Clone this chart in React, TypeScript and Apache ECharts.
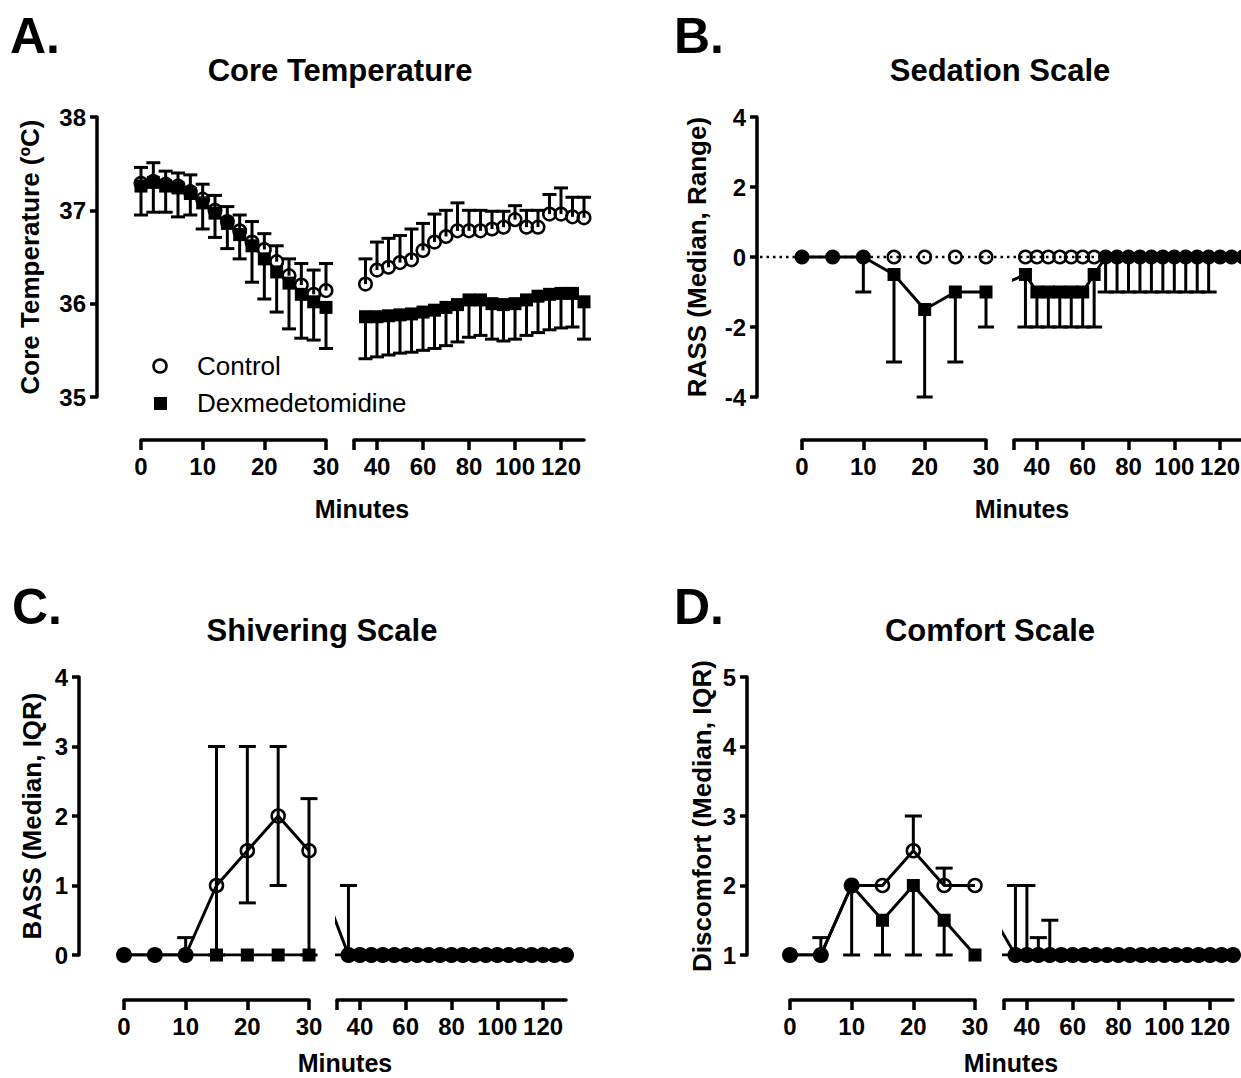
import React, { useEffect, useRef } from "react";
import * as echarts from "echarts";

const FONT = '"Liberation Sans", Arial, Helvetica, sans-serif';

// ---------------- A. Core Temperature (mean, SD) ----------------
const tempEarlyMinutes = [0, 2, 4, 6, 8, 10, 12, 14, 16, 18, 20, 22, 24, 26, 28, 30];
const tempEarlyControl = [37.29, 37.31, 37.28, 37.26, 37.2, 37.12, 37.0, 36.88, 36.78, 36.66, 36.58, 36.45, 36.3, 36.2, 36.1, 36.14];
const tempEarlyControlUpper = [37.46, 37.51, 37.42, 37.4, 37.38, 37.28, 37.16, 37.04, 36.95, 36.88, 36.75, 36.62, 36.48, 36.43, 36.36, 36.43];
const tempEarlyDex = [37.26, 37.3, 37.26, 37.24, 37.18, 37.08, 36.97, 36.86, 36.74, 36.62, 36.48, 36.34, 36.22, 36.1, 36.02, 35.96];
const tempEarlyDexLower = [36.95, 36.98, 36.98, 36.93, 36.95, 36.8, 36.71, 36.59, 36.48, 36.23, 36.05, 35.91, 35.73, 35.63, 35.61, 35.52];
const tempLateMinutes = [35, 40, 45, 50, 55, 60, 65, 70, 75, 80, 85, 90, 95, 100, 105, 110, 115, 120, 125, 130];
const tempLateControl = [36.21, 36.36, 36.39, 36.44, 36.47, 36.57, 36.66, 36.72, 36.78, 36.78, 36.78, 36.8, 36.82, 36.9, 36.82, 36.82, 36.96, 36.96, 36.93, 36.92];
const tempLateControlUpper = [36.48, 36.66, 36.7, 36.73, 36.8, 36.86, 36.96, 37.0, 37.08, 37.0, 37.0, 36.99, 36.99, 37.05, 37.0, 37.0, 37.17, 37.24, 37.14, 37.14];
const tempLateDex = [35.86, 35.86, 35.87, 35.88, 35.89, 35.91, 35.93, 35.96, 35.99, 36.04, 36.04, 36.0, 35.99, 36.0, 36.04, 36.08, 36.1, 36.11, 36.11, 36.02];
const tempLateDexLower = [35.41, 35.43, 35.45, 35.47, 35.48, 35.5, 35.52, 35.55, 35.59, 35.64, 35.66, 35.62, 35.6, 35.62, 35.66, 35.69, 35.72, 35.74, 35.75, 35.62];

// ---------------- B. Sedation Scale (RASS median, range) ----------------
const sedEarlyMinutes = [0, 5, 10, 15, 20, 25, 30];
const sedEarlyControl = [0, 0, 0, 0, 0, 0, 0];
const sedEarlyDex = [0, 0, 0, -0.5, -1.5, -1, -1];
const sedEarlyDexLower = [0, 0, -1, -3, -4, -3, -2];
const sedLateMinutes = [35, 40, 45, 50, 55, 60, 65, 70, 75, 80, 85, 90, 95, 100, 105, 110, 115, 120, 125, 130];
const sedLateControl = [0, 0, 0, 0, 0, 0, 0, 0, 0, 0, 0, 0, 0, 0, 0, 0, 0, 0, 0, 0];
const sedLateDex = [-0.5, -1, -1, -1, -1, -1, -0.5, 0, 0, 0, 0, 0, 0, 0, 0, 0, 0, 0, 0, 0];
const sedLateDexLower = [-2, -2, -2, -2, -2, -2, -2, -1, -1, -1, -1, -1, -1, -1, -1, -1, -1, 0, 0, 0];

// ---------------- C. Shivering Scale (BASS median, IQR) ----------------
const shivEarlyMinutes = [0, 5, 10, 15, 20, 25, 30];
const shivEarlyControl = [0, 0, 0, 1, 1.5, 2, 1.5];
const shivEarlyControlLower = [0, 0, 0, 0, 0.75, 1, 0];
const shivEarlyControlUpper = [0, 0, 0.25, 3, 3, 3, 2.25];
const shivEarlyDex = [0, 0, 0, 0, 0, 0, 0];
const shivLateMinutes = [35, 40, 45, 50, 55, 60, 65, 70, 75, 80, 85, 90, 95, 100, 105, 110, 115, 120, 125, 130];
const shivLateControl = [0, 0, 0, 0, 0, 0, 0, 0, 0, 0, 0, 0, 0, 0, 0, 0, 0, 0, 0, 0];
const shivLateControlUpper = [1, 0, 0, 0, 0, 0, 0, 0, 0, 0, 0, 0, 0, 0, 0, 0, 0, 0, 0, 0];
const shivLateDex = [0, 0, 0, 0, 0, 0, 0, 0, 0, 0, 0, 0, 0, 0, 0, 0, 0, 0, 0, 0];

// ---------------- D. Comfort Scale (discomfort median, IQR) ----------------
const comfEarlyMinutes = [0, 5, 10, 15, 20, 25, 30];
const comfEarlyControl = [1, 1, 2, 2, 2.5, 2, 2];
const comfEarlyControlUpper = [1, 1.25, 2, 2, 3, 2.25, 2];
const comfEarlyDex = [1, 1, 2, 1.5, 2, 1.5, 1];
const comfEarlyDexLower = [1, 1, 1, 1, 1, 1, 1];
const comfLateMinutes = [35, 40, 45, 50, 55, 60, 65, 70, 75, 80, 85, 90, 95, 100, 105, 110, 115, 120, 125, 130];
const comfLateControl = [1, 1, 1, 1, 1, 1, 1, 1, 1, 1, 1, 1, 1, 1, 1, 1, 1, 1, 1, 1];
const comfLateControlUpper = [2, 2, 1.25, 1.5, 1, 1, 1, 1, 1, 1, 1, 1, 1, 1, 1, 1, 1, 1, 1, 1];
const comfLateDex = [1, 1, 1, 1, 1, 1, 1, 1, 1, 1, 1, 1, 1, 1, 1, 1, 1, 1, 1, 1];

// x-axis tick labels
const lateTicks = [30, 40, 60, 80, 100, 120];
const lateLabels = [40, 60, 80, 100, 120];

const legendNames = ["Control", "Dexmedetomidine"];

type Seg = { left: number; width: number; min: number; max: number };
type SegData = {
  t: number[];
  ctrl: number[];
  ctrlLo: number[];
  ctrlHi: number[];
  dex: number[];
  dexLo: number[];
  dexHi: number[];
};
type Panel = {
  letter: string;
  title: string;
  yName: string;
  yMin: number;
  yMax: number;
  yStep: number;
  yAxisX: number;
  top: number;
  height: number;
  axisY: number;
  L: Seg;
  R: Seg;
  early: SegData;
  late: SegData;
  ctrlLine: boolean;
  dexLine: boolean;
  mergeEqual: boolean;
  sym: { open: number; filled: number; square: number; cap: number };
  letterPos: [number, number];
  titlePos: [number, number];
  minutesPos: [number, number];
  nameCenterX: number;
  refZero?: boolean;
};

const panels: Panel[] = [
  {
    letter: "A.",
    title: "Core Temperature",
    yName: "Core Temperature (ºC)",
    yMin: 35,
    yMax: 38,
    yStep: 1,
    yAxisX: 97,
    top: 117,
    height: 280,
    axisY: 440,
    L: { left: 141, width: 185, min: 0, max: 30 },
    R: { left: 354, width: 230, min: 30, max: 130 },
    early: {
      t: tempEarlyMinutes,
      ctrl: tempEarlyControl,
      ctrlLo: tempEarlyControl,
      ctrlHi: tempEarlyControlUpper,
      dex: tempEarlyDex,
      dexLo: tempEarlyDexLower,
      dexHi: tempEarlyDex,
    },
    late: {
      t: tempLateMinutes,
      ctrl: tempLateControl,
      ctrlLo: tempLateControl,
      ctrlHi: tempLateControlUpper,
      dex: tempLateDex,
      dexLo: tempLateDexLower,
      dexHi: tempLateDex,
    },
    ctrlLine: false,
    dexLine: false,
    mergeEqual: false,
    sym: { open: 12.5, filled: 15, square: 13, cap: 7 },
    letterPos: [10, 36],
    titlePos: [340, 70],
    minutesPos: [362, 509],
    nameCenterX: 30,
  },
  {
    letter: "B.",
    title: "Sedation Scale",
    yName: "RASS (Median, Range)",
    yMin: -4,
    yMax: 4,
    yStep: 2,
    yAxisX: 757,
    top: 117,
    height: 280,
    axisY: 440,
    L: { left: 802, width: 184, min: 0, max: 30 },
    R: { left: 1014, width: 229, min: 30, max: 130 },
    early: {
      t: sedEarlyMinutes,
      ctrl: sedEarlyControl,
      ctrlLo: sedEarlyControl,
      ctrlHi: sedEarlyControl,
      dex: sedEarlyDex,
      dexLo: sedEarlyDexLower,
      dexHi: sedEarlyDex,
    },
    late: {
      t: sedLateMinutes,
      ctrl: sedLateControl,
      ctrlLo: sedLateControl,
      ctrlHi: sedLateControl,
      dex: sedLateDex,
      dexLo: sedLateDexLower,
      dexHi: sedLateDex,
    },
    ctrlLine: false,
    dexLine: true,
    mergeEqual: true,
    sym: { open: 12.5, filled: 15, square: 13, cap: 8 },
    letterPos: [674, 36],
    titlePos: [1000, 70],
    minutesPos: [1022, 509],
    nameCenterX: 697,
    refZero: true,
  },
  {
    letter: "C.",
    title: "Shivering Scale",
    yName: "BASS (Median, IQR)",
    yMin: 0,
    yMax: 4,
    yStep: 1,
    yAxisX: 79,
    top: 677,
    height: 278,
    axisY: 1000,
    L: { left: 124, width: 185, min: 0, max: 30 },
    R: { left: 337, width: 229, min: 30, max: 130 },
    early: {
      t: shivEarlyMinutes,
      ctrl: shivEarlyControl,
      ctrlLo: shivEarlyControlLower,
      ctrlHi: shivEarlyControlUpper,
      dex: shivEarlyDex,
      dexLo: shivEarlyDex,
      dexHi: shivEarlyDex,
    },
    late: {
      t: shivLateMinutes,
      ctrl: shivLateControl,
      ctrlLo: shivLateControl,
      ctrlHi: shivLateControlUpper,
      dex: shivLateDex,
      dexLo: shivLateDex,
      dexHi: shivLateDex,
    },
    ctrlLine: true,
    dexLine: true,
    mergeEqual: true,
    sym: { open: 13, filled: 16, square: 13, cap: 8.5 },
    letterPos: [12, 607],
    titlePos: [322, 630],
    minutesPos: [345, 1063],
    nameCenterX: 32,
  },
  {
    letter: "D.",
    title: "Comfort Scale",
    yName: "Discomfort (Median, IQR)",
    yMin: 1,
    yMax: 5,
    yStep: 1,
    yAxisX: 747,
    top: 677,
    height: 278,
    axisY: 1000,
    L: { left: 790, width: 185, min: 0, max: 30 },
    R: { left: 1004, width: 229, min: 30, max: 130 },
    early: {
      t: comfEarlyMinutes,
      ctrl: comfEarlyControl,
      ctrlLo: comfEarlyControl,
      ctrlHi: comfEarlyControlUpper,
      dex: comfEarlyDex,
      dexLo: comfEarlyDexLower,
      dexHi: comfEarlyDex,
    },
    late: {
      t: comfLateMinutes,
      ctrl: comfLateControl,
      ctrlLo: comfLateControl,
      ctrlHi: comfLateControlUpper,
      dex: comfLateDex,
      dexLo: comfLateDex,
      dexHi: comfLateDex,
    },
    ctrlLine: true,
    dexLine: true,
    mergeEqual: true,
    sym: { open: 13, filled: 16, square: 13, cap: 8.5 },
    letterPos: [674, 607],
    titlePos: [990, 630],
    minutesPos: [1011, 1063],
    nameCenterX: 702,
  },
];

const BLACK = "#000";
const LW = 3;
const BORDER = 2.5;

function errorRender(capHalf: number) {
  return (_params: any, api: any) => {
    const t = api.value(0);
    const m = api.value(1);
    const lo = api.value(2);
    const hi = api.value(3);
    const pLo = api.coord([t, lo]);
    const pHi = api.coord([t, hi]);
    const style = { stroke: BLACK, lineWidth: LW, fill: "none" };
    const children: any[] = [
      { type: "line", shape: { x1: pLo[0], y1: pLo[1], x2: pHi[0], y2: pHi[1] }, style },
    ];
    if (lo < m) {
      children.push({
        type: "line",
        shape: { x1: pLo[0] - capHalf, y1: pLo[1], x2: pLo[0] + capHalf, y2: pLo[1] },
        style,
      });
    }
    if (hi > m) {
      children.push({
        type: "line",
        shape: { x1: pHi[0] - capHalf, y1: pHi[1], x2: pHi[0] + capHalf, y2: pHi[1] },
        style,
      });
    }
    return { type: "group", children };
  };
}

function textEl(text: string, x: number, y: number, font: string, align: string) {
  return {
    type: "text",
    x,
    y,
    silent: true,
    style: {
      text,
      fill: BLACK,
      font,
      textAlign: align,
      textVerticalAlign: "middle",
      align,
      verticalAlign: "middle",
    },
  };
}

function buildOption() {
  const grids: any[] = [];
  const xAxes: any[] = [];
  const yAxes: any[] = [];
  const series: any[] = [];
  const graphics: any[] = [];

  panels.forEach((p) => {
    const segs = [
      { seg: p.L, d: p.early, right: false },
      { seg: p.R, d: p.late, right: true },
    ];
    segs.forEach(({ seg, d, right }) => {
      const gi = grids.length;
      grids.push({
        left: seg.left,
        top: p.top,
        width: seg.width,
        height: p.height,
        containLabel: false,
        outerBoundsMode: "none",
      });
      const labelStyle = { color: BLACK, fontSize: 24, fontWeight: "bold", fontFamily: FONT };
      xAxes.push({
        gridIndex: gi,
        type: "value",
        min: seg.min,
        max: seg.max,
        position: "bottom",
        offset: p.axisY - (p.top + p.height),
        axisLine: { show: true, onZero: false, lineStyle: { color: BLACK, width: 3.5 } },
        axisTick: right
          ? { show: true, length: 10, customValues: lateTicks, lineStyle: { color: BLACK, width: 3.5 } }
          : { show: true, length: 10, lineStyle: { color: BLACK, width: 3.5 } },
        interval: right ? undefined : 10,
        axisLabel: right
          ? { customValues: lateLabels, margin: 14, ...labelStyle }
          : { margin: 14, ...labelStyle },
        splitLine: { show: false },
      });
      yAxes.push({
        gridIndex: gi,
        type: "value",
        show: !right,
        min: p.yMin,
        max: p.yMax,
        interval: p.yStep,
        position: "left",
        offset: right ? 0 : seg.left - p.yAxisX,
        name: right ? "" : p.yName,
        nameLocation: "middle",
        nameGap: p.yAxisX - p.nameCenterX - 13,
        nameMoveOverlap: false,
        nameTextStyle: { color: BLACK, fontSize: 26, fontWeight: "bold", fontFamily: FONT },
        axisLine: { show: true, onZero: false, lineStyle: { color: BLACK, width: 3.5 } },
        axisTick: { show: true, length: 7, lineStyle: { color: BLACK, width: 3.5 } },
        axisLabel: { margin: 11, ...labelStyle },
        splitLine: { show: false },
      });

      // error bars
      const ctrlRows = d.t
        .map((t, i) => [t, d.ctrl[i], d.ctrlLo[i], d.ctrlHi[i]])
        .filter((r) => r[2] !== r[3]);
      const dexRows = d.t
        .map((t, i) => [t, d.dex[i], d.dexLo[i], d.dexHi[i]])
        .filter((r) => r[2] !== r[3]);
      [ctrlRows, dexRows].forEach((rows) => {
        series.push({
          type: "custom",
          xAxisIndex: gi,
          yAxisIndex: gi,
          renderItem: errorRender(p.sym.cap),
          data: rows,
          encode: { x: 0, y: 1 },
          z: 1,
          silent: true,
          clip: false,
        });
      });

      // the line across the axis break starts from the previous segment's last point,
      // placed (in this segment's units) at that point's pixel position
      const hookT =
        seg.min - (seg.left - (p.L.left + p.L.width)) * ((seg.max - seg.min) / seg.width);
      const lastIdx = p.early.t.length - 1;

      const ctrlData: any[] = d.t.map((t, i) => {
        const same = p.mergeEqual && d.ctrl[i] === d.dex[i];
        return same
          ? {
              value: [t, d.ctrl[i]],
              symbolSize: p.sym.filled,
              itemStyle: { color: BLACK, borderColor: BLACK, borderWidth: 0 },
            }
          : { value: [t, d.ctrl[i]] };
      });
      const dexData: any[] = d.t.map((t, i) => {
        const same = p.mergeEqual && d.ctrl[i] === d.dex[i];
        return same ? { value: [t, d.dex[i]], symbol: "none" } : { value: [t, d.dex[i]] };
      });
      if (right && p.ctrlLine) ctrlData.unshift({ value: [hookT, p.early.ctrl[lastIdx]], symbol: "none" });
      if (right && p.dexLine) dexData.unshift({ value: [hookT, p.early.dex[lastIdx]], symbol: "none" });

      series.push({
        name: legendNames[0],
        type: p.ctrlLine ? "line" : "scatter",
        xAxisIndex: gi,
        yAxisIndex: gi,
        data: ctrlData,
        symbol: "circle",
        symbolSize: p.sym.open,
        showSymbol: true,
        itemStyle: { color: "rgba(0,0,0,0)", borderColor: BLACK, borderWidth: BORDER, opacity: 1 },
        lineStyle: { color: BLACK, width: LW },
        emphasis: { disabled: true },
        silent: true,
        clip: true,
        z: 3,
      });
      series.push({
        name: legendNames[1],
        type: p.dexLine ? "line" : "scatter",
        xAxisIndex: gi,
        yAxisIndex: gi,
        data: dexData,
        symbol: "rect",
        symbolSize: p.sym.square,
        showSymbol: true,
        itemStyle: { color: BLACK, borderColor: BLACK, borderWidth: 0, opacity: 1 },
        lineStyle: { color: BLACK, width: LW },
        emphasis: { disabled: true },
        silent: true,
        clip: true,
        z: 4,
      });
    });

    graphics.push(textEl(p.letter, p.letterPos[0], p.letterPos[1], `bold 50px ${FONT}`, "left"));
    graphics.push(textEl(p.title, p.titlePos[0], p.titlePos[1], `bold 31px ${FONT}`, "center"));
    graphics.push(textEl("Minutes", p.minutesPos[0], p.minutesPos[1], `bold 25px ${FONT}`, "center"));
  });

  // legend of panel A
  graphics.push({
    type: "circle",
    silent: true,
    shape: { cx: 160, cy: 366, r: 6.5 },
    style: { fill: "rgba(0,0,0,0)", stroke: BLACK, lineWidth: BORDER },
  });
  graphics.push({
    type: "rect",
    silent: true,
    shape: { x: 154, y: 397, width: 13, height: 13 },
    style: { fill: BLACK },
  });
  [366, 403].forEach((y, i) => {
    graphics.push(textEl(legendNames[i], 197, y, `26px ${FONT}`, "left"));
  });

  return {
    option: {
      animation: false,
      backgroundColor: "#fff",
      textStyle: { fontFamily: FONT, color: BLACK },
      grid: grids,
      xAxis: xAxes,
      yAxis: yAxes,
      series,
      graphic: { elements: graphics },
    },
    graphics,
  };
}

export default function App() {
  const ref = useRef<HTMLDivElement>(null);
  useEffect(() => {
    if (!ref.current) return;
    const chart = echarts.init(ref.current, undefined, { renderer: "svg" });
    const { option, graphics } = buildOption();
    chart.setOption(option as any);

    // dotted reference line at 0 for the sedation panel, placed through the library's y scale
    const extra: any[] = [];
    let gridIdx = 0;
    panels.forEach((p) => {
      if (p.refZero) {
        const y0 = chart.convertToPixel({ yAxisIndex: gridIdx } as any, 0) as unknown as number;
        extra.push({
          type: "line",
          silent: true,
          z: 0,
          shape: { x1: p.yAxisX + 3, y1: y0, x2: 1241, y2: y0 },
          style: { stroke: BLACK, lineWidth: 2.5, lineDash: [2.5, 4] },
        });
      }
      gridIdx += 2;
    });
    if (extra.length) {
      chart.setOption({ graphic: { elements: [...graphics, ...extra] } } as any);
    }
    return () => chart.dispose();
  }, []);
  return (
    <div
      ref={ref}
      style={{ position: "absolute", left: 0, top: 0, width: 1241, height: 1078, background: "#fff" }}
    />
  );
}
